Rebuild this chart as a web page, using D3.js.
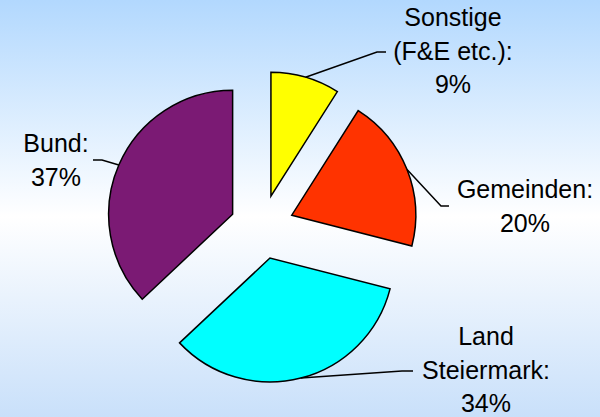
<!DOCTYPE html>
<html><head><meta charset="utf-8">
<script src="https://cdn.jsdelivr.net/npm/d3@7"></script>
<style>html,body{margin:0;padding:0;overflow:hidden}svg{display:block}</style>
</head><body>
<svg id="chart" width="600" height="417"></svg>
<script>
// Data
const categories = ["Sonstige (F&E etc.)", "Gemeinden", "Land Steiermark", "Bund"];
const values = [9, 20, 34, 37];
const labelLines = [["Sonstige", "(F&E etc.):", "9%"], ["Gemeinden:", "20%"], ["Land", "Steiermark:", "34%"], ["Bund:", "37%"]];
const colors = ["#ffff00", "#ff3300", "#00ffff", "#7b1a74"];

// Layout
const W = 600, H = 417;
const cx = 262, cy = 227, R = 124, explode = 32;
const labelPos = [
  {x: 453, y: 26, elbow: [377, 52], end: [386, 52]},
  {x: 525, y: 198, elbow: [441, 206], end: [449, 206]},
  {x: 486, y: 345, elbow: [402, 371], end: [413, 371]},
  {x: 56, y: 152, elbow: [102, 160], end: [93, 160]}
];
const lineH = 33.5;

const svg = d3.select("#chart");
const defs = svg.append("defs");
const grad = defs.append("linearGradient").attr("id", "bg").attr("x1", 0).attr("y1", 0).attr("x2", 0).attr("y2", 1);
grad.append("stop").attr("offset", "0%").attr("stop-color", "#b2d8fe");
grad.append("stop").attr("offset", "52%").attr("stop-color", "#ffffff");
grad.append("stop").attr("offset", "100%").attr("stop-color", "#c9e0fa");
svg.append("rect").attr("width", W).attr("height", H).attr("fill", "url(#bg)");

const pie = d3.pie().sort(null).value(d => d)(values);
const arc = d3.arc().innerRadius(0).outerRadius(R);

const g = svg.append("g").attr("transform", `translate(${cx},${cy})`);
const slices = g.selectAll("g.slice").data(pie).join("g").attr("class", "slice")
  .attr("transform", d => {
    const a = (d.startAngle + d.endAngle) / 2;
    return `translate(${explode * Math.sin(a)},${-explode * Math.cos(a)})`;
  });
slices.append("path").attr("d", arc)
  .attr("fill", (d, i) => colors[i])
  .attr("stroke", "#000").attr("stroke-width", 1.5).attr("stroke-linejoin", "miter");

// leader lines
pie.forEach((d, i) => {
  const a = (d.startAngle + d.endAngle) / 2;
  const ox = cx + explode * Math.sin(a), oy = cy - explode * Math.cos(a);
  const sx = ox + R * Math.sin(a), sy = oy - R * Math.cos(a);
  const p = labelPos[i];
  svg.append("path")
    .attr("d", d3.line()([[sx, sy], p.elbow, p.end]))
    .attr("fill", "none").attr("stroke", "#000").attr("stroke-width", 1.5);
});

// labels
labelLines.forEach((lines, i) => {
  const p = labelPos[i];
  const t = svg.append("text")
    .attr("text-anchor", "middle")
    .attr("font-family", "Liberation Sans, Arial, sans-serif")
    .attr("font-size", 25).attr("fill", "#000");
  lines.forEach((ln, j) => {
    t.append("tspan").attr("x", p.x).attr("y", p.y + j * lineH).text(ln);
  });
});
</script>
</body></html>
